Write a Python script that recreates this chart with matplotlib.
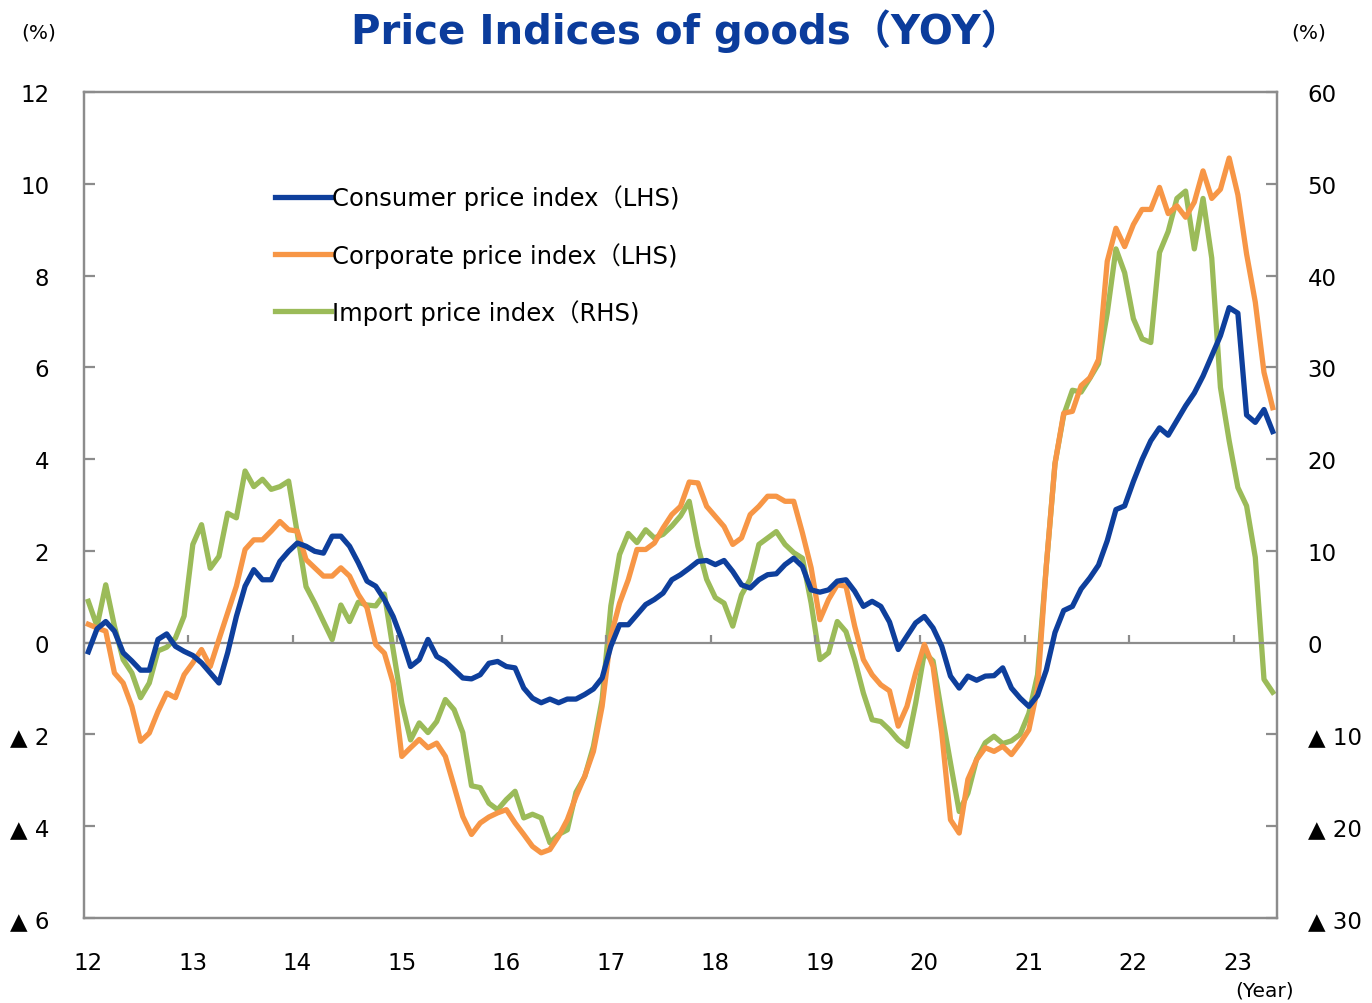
import numpy as np
import matplotlib
matplotlib.use("Agg")
import matplotlib.pyplot as plt

# monthly data, Jan 2012 - May 2023
years = ["12", "13", "14", "15", "16", "17", "18", "19", "20", "21", "22", "23"]

cpi = [-0.2, 0.3, 0.46, 0.25, -0.22, -0.4, -0.6, -0.6, 0.07, 0.19, -0.08, -0.19,
       -0.28, -0.44, -0.66, -0.88, -0.22, 0.57, 1.23, 1.59, 1.37, 1.37, 1.77, 1.99,
       2.17, 2.1, 1.99, 1.95, 2.32, 2.32, 2.1, 1.74, 1.34, 1.23, 0.94, 0.57,
       0.07, -0.52, -0.37, 0.07, -0.3, -0.41, -0.59, -0.77, -0.79, -0.7, -0.45, -0.41,
       -0.52, -0.55, -0.99, -1.21, -1.31, -1.23, -1.31, -1.23, -1.23, -1.13, -1.01, -0.77,
       -0.08, 0.39, 0.39, 0.61, 0.83, 0.94, 1.08, 1.37, 1.48, 1.62, 1.77, 1.79,
       1.70, 1.79, 1.55, 1.26, 1.19, 1.37, 1.48, 1.50, 1.70, 1.84, 1.66, 1.15,
       1.10, 1.15, 1.34, 1.37, 1.12, 0.79, 0.90, 0.79, 0.45, -0.15, 0.14, 0.43,
       0.57, 0.32, -0.08, -0.73, -0.99, -0.73, -0.82, -0.73, -0.72, -0.55, -0.99, -1.21,
       -1.39, -1.15, -0.6, 0.22, 0.7, 0.79, 1.17, 1.41, 1.69, 2.22, 2.90, 2.98,
       3.51, 3.99, 4.40, 4.68, 4.52, 4.84, 5.16, 5.44, 5.81, 6.25, 6.69, 7.30,
       7.18, 4.96, 4.80, 5.08, 4.60]

cgpi = [0.4, 0.32, 0.25, -0.66, -0.88, -1.39, -2.15, -1.97, -1.5, -1.1, -1.2, -0.7,
        -0.44, -0.15, -0.52, 0.07, 0.65, 1.23, 2.03, 2.24, 2.24, 2.43, 2.64, 2.46,
        2.43, 1.81, 1.63, 1.45, 1.45, 1.63, 1.45, 1.05, 0.76, -0.04, -0.23, -0.88,
        -2.48, -2.29, -2.11, -2.29, -2.19, -2.48, -3.13, -3.79, -4.18, -3.93, -3.8, -3.71,
        -3.64, -3.93, -4.18, -4.44, -4.58, -4.51, -4.22, -3.86, -3.35, -2.91, -2.37, -1.39,
        0.14, 0.86, 1.37, 2.03, 2.03, 2.17, 2.50, 2.79, 2.97, 3.5, 3.48, 2.97,
        2.75, 2.53, 2.14, 2.28, 2.79, 2.97, 3.19, 3.19, 3.08, 3.08, 2.39, 1.63,
        0.50, 0.94, 1.26, 1.23, 0.36, -0.37, -0.70, -0.92, -1.05, -1.82, -1.39, -0.66,
        -0.04, -0.52, -1.97, -3.86, -4.15, -2.98, -2.55, -2.29, -2.37, -2.26, -2.44, -2.19,
        -1.90, -1.0, 1.67, 3.9, 5.0, 5.04, 5.6, 5.77, 6.17, 8.31, 9.03, 8.63,
        9.11, 9.44, 9.44, 9.92, 9.35, 9.52, 9.27, 9.6, 10.28, 9.68, 9.88, 10.56,
        9.76, 8.47, 7.42, 5.89, 5.12]

import_pi = [4.5, 1.8, 6.3, 1.8, -1.85, -3.3, -6.0, -4.4, -0.9, -0.5, 0.5, 2.9,
             10.7, 12.85, 8.1, 9.4, 14.1, 13.6, 18.7, 17.0, 17.8, 16.7, 17.0, 17.6,
             11.9, 6.1, 4.3, 2.3, 0.33, 4.1, 2.3, 4.4, 4.1, 4.0, 5.3, -0.76,
             -6.6, -10.6, -8.75, -9.8, -8.6, -6.2, -7.3, -9.8, -15.6, -15.8, -17.5, -18.2,
             -17.1, -16.2, -19.1, -18.7, -19.1, -21.8, -20.9, -20.4, -16.3, -14.6, -11.3, -6.2,
             4.0, 9.6, 11.9, 10.9, 12.3, 11.4, 11.8, 12.7, 13.8, 15.4, 10.5, 6.9,
             4.9, 4.3, 1.8, 5.2, 6.9, 10.7, 11.4, 12.1, 10.7, 9.8, 9.2, 4.3,
             -1.85, -1.1, 2.3, 1.2, -1.85, -5.5, -8.4, -8.6, -9.5, -10.6, -11.3, -6.6,
             -1.1, -2.0, -7.7, -13.1, -18.4, -16.4, -12.7, -10.9, -10.2, -11.0, -10.7, -10.0,
             -7.7, -3.5, 8.3, 19.5, 24.8, 27.5, 27.3, 28.8, 30.4, 35.9, 42.9, 40.3,
             35.3, 33.1, 32.7, 42.5, 44.8, 48.4, 49.2, 42.9, 48.4, 41.9, 27.8, 22.0,
             16.9, 14.9, 9.3, -4.0, -5.4]

labels = ["Consumer price index（LHS)", "Corporate price index（LHS)", "Import price index（RHS)"]
colors = ["#0E3F9C", "#F79646", "#9BBB59"]

plt.rcParams['font.family'] = ['DejaVu Sans', 'Noto Sans CJK JP']

fig = plt.figure(figsize=(13.72, 10.04), dpi=100)
ax = fig.add_axes([0.0612, 0.0847, 0.8696, 0.8227])
ax2 = ax.twinx()

x = np.arange(len(cpi))
l3, = ax2.plot(x, import_pi, color=colors[2], lw=3.8, solid_joinstyle='round')
l1, = ax.plot(x, cpi, color=colors[0], lw=3.8, solid_joinstyle='round', zorder=3)
l2, = ax.plot(x, cgpi, color=colors[1], lw=3.8, solid_joinstyle='round', zorder=2)
ax.set_zorder(ax2.get_zorder() + 1)
ax.patch.set_visible(False)

ax.set_xlim(-0.5, len(cpi) - 0.5)
ax.set_ylim(-6, 12)
ax2.set_ylim(-30, 60)

gray = "#8C8C8C"
for a in (ax, ax2):
    for s in a.spines.values():
        s.set_color(gray)
        s.set_linewidth(1.6)

ax.axhline(0, color=gray, lw=1.6, zorder=1)
bounds = np.arange(1, len(years)) * 12 - 0.5
ax.vlines(bounds, 0, 0.17, color=gray, lw=1.6, zorder=1)

def fmt(v):
    return "▲ %d" % abs(v) if v < 0 else "%d" % v

lt = np.arange(-6, 13, 2)
ax.set_yticks(lt)
ax.set_yticklabels([fmt(v) for v in lt])
rt = np.arange(-30, 61, 10)
ax2.set_yticks(rt)
ax2.set_yticklabels([fmt(v) for v in rt])
ax.tick_params(axis='y', direction='in', length=8, width=1.6, color=gray,
               labelsize=16.5, pad=25)
ax2.tick_params(axis='y', direction='in', length=8, width=1.6, color=gray,
                labelsize=16.5, pad=22)

ax.set_xticks(np.arange(len(years)) * 12)
ax.set_xticklabels(years)
ax.tick_params(axis='x', length=0, labelsize=16.5, pad=24)

fig.text(0.5, 0.969, "Price Indices of goods（YOY）", ha='center', va='center',
         fontsize=29, fontweight='bold', color="#0B3C9C")
fig.text(0.028, 0.967, "(%)", ha='center', va='center', fontsize=14.5)
fig.text(0.954, 0.967, "(%)", ha='center', va='center', fontsize=14.5)
fig.text(0.922, 0.013, "(Year)", ha='center', va='center', fontsize=14.5)

ax.legend([l1, l2, l3], labels, loc='upper left', bbox_to_anchor=(0.152, 0.9),
          frameon=False, fontsize=17.5, handlelength=2.3, handletextpad=0.05,
          labelspacing=1.3, borderaxespad=0)

fig.savefig("out.png", dpi=100)
